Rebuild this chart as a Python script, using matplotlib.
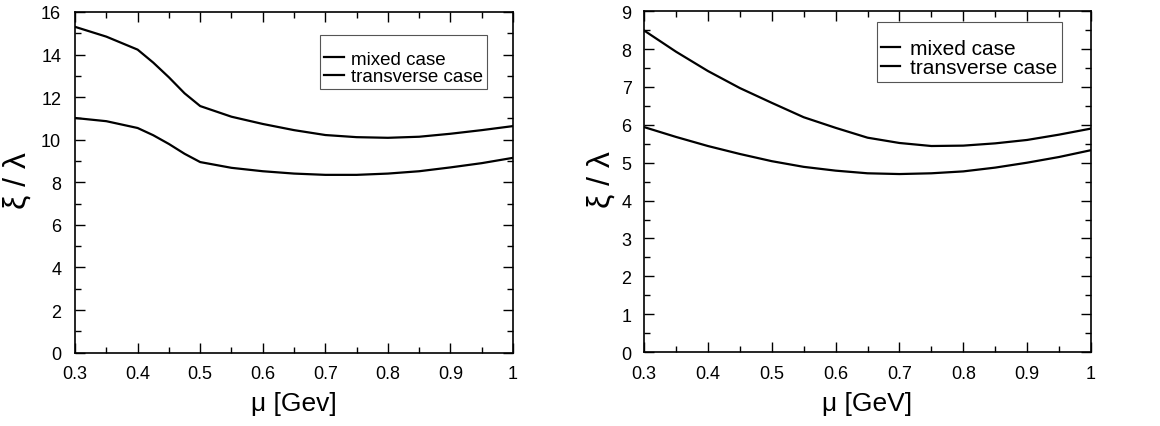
import matplotlib
matplotlib.use("Agg")
import matplotlib.pyplot as plt
from matplotlib.ticker import MultipleLocator, FuncFormatter

plt.rcParams['font.family'] = ['Liberation Sans', 'DejaVu Sans']

mu_left = [0.30, 0.35, 0.40, 0.425, 0.45, 0.475, 0.50, 0.55, 0.60, 0.65, 0.70, 0.75, 0.80, 0.85, 0.90, 0.95, 1.00]
left_mixed = [15.30, 14.84, 14.23, 13.62, 12.93, 12.18, 11.58, 11.08, 10.74, 10.45, 10.22, 10.12, 10.09, 10.14, 10.28, 10.45, 10.64]
left_trans = [11.02, 10.87, 10.55, 10.21, 9.80, 9.34, 8.95, 8.68, 8.52, 8.41, 8.35, 8.35, 8.41, 8.52, 8.70, 8.90, 9.15]

mu_right = [0.30, 0.35, 0.40, 0.45, 0.50, 0.55, 0.60, 0.65, 0.70, 0.75, 0.80, 0.85, 0.90, 0.95, 1.00]
right_mixed = [8.49, 7.93, 7.42, 6.97, 6.58, 6.20, 5.92, 5.66, 5.52, 5.44, 5.45, 5.51, 5.60, 5.74, 5.90]
right_trans = [5.94, 5.68, 5.44, 5.23, 5.04, 4.89, 4.79, 4.72, 4.70, 4.72, 4.77, 4.87, 5.00, 5.15, 5.33]

labels = ["mixed case", "transverse case"]

fig = plt.figure(figsize=(11.6, 4.27), dpi=100)
ax1 = fig.add_axes([0.0647, 0.1717, 0.3776, 0.798])
ax2 = fig.add_axes([0.5552, 0.1730, 0.3853, 0.7986])

def style(ax, ymax, ymaj, ymin, xlabel, lbbox, lfs, hl, htp, ylc, xlc, ypad):
    ax.set_xlim(0.3, 1.0)
    ax.set_ylim(0, ymax)
    ax.xaxis.set_major_locator(MultipleLocator(0.1))
    ax.xaxis.set_minor_locator(MultipleLocator(0.05))
    ax.yaxis.set_major_locator(MultipleLocator(ymaj))
    ax.yaxis.set_minor_locator(MultipleLocator(ymin))
    ax.xaxis.set_major_formatter(FuncFormatter(lambda v, p: ('%g' % round(v, 2))))
    ax.tick_params(which='both', direction='in', top=True, right=True, labelsize=13, width=1.0)
    ax.tick_params(axis='x', pad=9)
    ax.tick_params(axis='y', pad=ypad)
    ax.tick_params(which='major', length=7)
    ax.tick_params(which='minor', length=4)
    for s in ax.spines.values():
        s.set_linewidth(1.2)
    ax.set_xlabel(xlabel, fontsize=19)
    ax.xaxis.set_label_coords(*xlc)
    ax.xaxis.label.set_va('center')
    ax.set_ylabel("ξ / λ", fontsize=23)
    ax.yaxis.set_label_coords(*ylc)
    ax.yaxis.label.set_va('center')
    leg = ax.legend(loc='upper right', bbox_to_anchor=lbbox, fontsize=lfs, handlelength=hl,
                    handletextpad=htp, labelspacing=0.0, borderpad=0.22, borderaxespad=0.0,
                    fancybox=False, framealpha=1, title=" ", title_fontsize=lfs * 0.5)
    leg.get_frame().set_edgecolor('#555555')
    leg.get_frame().set_linewidth(0.8)
    leg._legend_box.sep = 2

ax1.plot(mu_left, left_mixed, color='black', lw=1.6, label=labels[0])
ax1.plot(mu_left, left_trans, color='black', lw=1.6, label=labels[1])
style(ax1, 16, 2, 1, "μ [Gev]", (0.9406, 0.9325), 13.5, 1.07, 0.37,
      (-0.132, 0.507), (0.5, -0.148), 10)

ax2.plot(mu_right, right_mixed, color='black', lw=1.6, label=labels[0])
ax2.plot(mu_right, right_trans, color='black', lw=1.6, label=labels[1])
style(ax2, 9, 1, 0.5, "μ [GeV]", (0.935, 0.968), 15, 0.9, 0.48,
      (-0.094, 0.51), (0.5, -0.148), 9)

fig.savefig("out.png", dpi=100)
